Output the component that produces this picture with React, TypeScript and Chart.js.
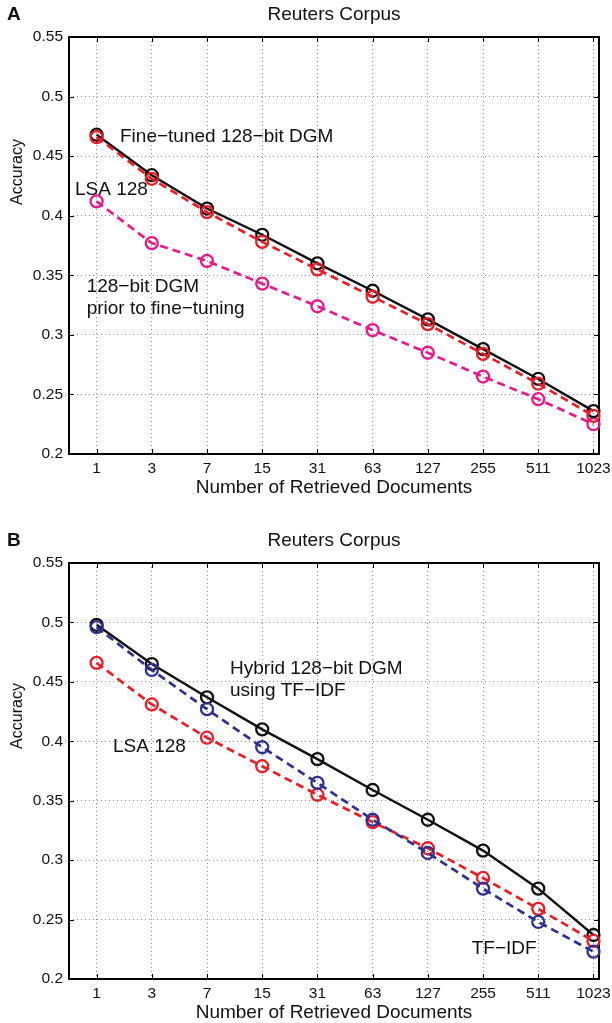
import React, { useEffect, useRef } from "react";
import { Chart, registerables } from "chart.js";

Chart.register(...registerables);

// ---- data ----
const docCounts = [1, 3, 7, 15, 31, 63, 127, 255, 511, 1023];
const docLabels = ["1", "3", "7", "15", "31", "63", "127", "255", "511", "1023"];
const yTickValues = [0.2, 0.25, 0.3, 0.35, 0.4, 0.45, 0.5, 0.55];
const yTickLabels = ["0.2", "0.25", "0.3", "0.35", "0.4", "0.45", "0.5", "0.55"];

// Panel A
const fineTunedDGM = [0.468, 0.434, 0.406, 0.384, 0.360, 0.337, 0.313, 0.288, 0.263, 0.236];
const lsa128A = [0.466, 0.431, 0.403, 0.378, 0.355, 0.332, 0.309, 0.284, 0.259, 0.232];
const priorDGM = [0.412, 0.377, 0.362, 0.343, 0.324, 0.304, 0.285, 0.265, 0.246, 0.225];

// Panel B
const hybridDGM = [0.498, 0.465, 0.437, 0.410, 0.385, 0.359, 0.334, 0.308, 0.276, 0.237];
const tfidf = [0.496, 0.460, 0.427, 0.395, 0.365, 0.334, 0.306, 0.276, 0.248, 0.223];
const lsa128B = [0.466, 0.431, 0.403, 0.379, 0.355, 0.332, 0.310, 0.285, 0.259, 0.232];

const FONT = '"Liberation Sans", Arial, Helvetica, sans-serif';
const RED = "#ed1c24";
const MAGENTA = "#ec178c";
const BLUE = "#2e3192";
const BLACK = "#111111";

type Series = { label: string; values: number[]; color: string; dashed: boolean; order: number };
type Note = { lines: string[]; x: number; y: number };

type PanelProps = {
  letter: string;
  top: number;
  height: number;
  axisH: number;
  ylabelY: number;
  series: Series[];
  notes: Note[];
};

function Panel({ letter, top, height, axisH, ylabelY, series, notes }: PanelProps) {
  const ref = useRef<HTMLCanvasElement>(null);
  useEffect(() => {
    const canvas = ref.current!;
    const xs = docCounts.map((n) => Math.log2(n + 1));
    const datasets = series.map((s) => ({
      label: s.label,
      data: s.values.map((v, j) => ({ x: xs[j], y: v })),
      borderColor: s.color,
      backgroundColor: "transparent",
      borderWidth: s.dashed ? 2.7 : 2.4,
      borderDash: s.dashed ? [8, 5] : [],
      pointRadius: 6,
      pointBorderWidth: 2.3,
      pointBackgroundColor: "transparent",
      pointBorderColor: s.color,
      pointStyle: "circle",
      tension: 0,
      clip: false as any,
      order: s.order,
      fill: false,
    }));

    const framePlugin = {
      id: "frame",
      beforeDatasetsDraw(chart: any) {
        const { ctx, chartArea } = chart;
        const { left, right, top: t, bottom } = chartArea;
        const xsScale = chart.scales.x;
        const ysScale = chart.scales.y;
        ctx.save();
        ctx.strokeStyle = "#000";
        ctx.lineWidth = 1;
        ctx.setLineDash([]);
        ctx.beginPath();
        xsScale.ticks.forEach((tk: any) => {
          const px = Math.round(xsScale.getPixelForValue(tk.value)) + 0.5;
          ctx.moveTo(px, bottom);
          ctx.lineTo(px, bottom - 5);
          ctx.moveTo(px, t);
          ctx.lineTo(px, t + 5);
        });
        ysScale.ticks.forEach((tk: any) => {
          const py = Math.round(ysScale.getPixelForValue(tk.value)) + 0.5;
          ctx.moveTo(left, py);
          ctx.lineTo(left + 5, py);
          ctx.moveTo(right, py);
          ctx.lineTo(right - 5, py);
        });
        ctx.stroke();
        ctx.lineWidth = 2;
        ctx.strokeRect(left, t, right - left, bottom - t);
        ctx.restore();
      },
      afterDraw(chart: any) {
        const { ctx, chartArea } = chart;
        const { left, right, top: t, bottom } = chartArea;
        const xsScale = chart.scales.x;
        const ysScale = chart.scales.y;
        ctx.save();
        ctx.fillStyle = "#111";
        ctx.textBaseline = "middle";
        // panel letter
        ctx.font = `bold 19px ${FONT}`;
        ctx.textAlign = "left";
        ctx.fillText(letter, 7, t - 22);
        // title
        ctx.font = `19px ${FONT}`;
        ctx.textAlign = "center";
        ctx.fillText("Reuters Corpus", (left + right) / 2, t - 22);
        // x title
        ctx.fillText("Number of Retrieved Documents", (left + right) / 2, bottom + 34);
        // y title
        ctx.save();
        ctx.font = `16px ${FONT}`;
        ctx.translate(18, ylabelY);
        ctx.rotate(-Math.PI / 2);
        ctx.fillText("Accuracy", 0, 0);
        ctx.restore();
        // notes
        ctx.textAlign = "left";
        ctx.font = `19px ${FONT}`;
        notes.forEach((n) => {
          const px = xsScale.getPixelForValue(n.x);
          const py = ysScale.getPixelForValue(n.y);
          n.lines.forEach((ln, i) => ctx.fillText(ln, px, py + i * 22));
        });
        ctx.restore();
      },
    };

    const chart = new Chart(canvas, {
      type: "line",
      data: { datasets: datasets as any },
      options: {
        animation: false,
        responsive: false,
        maintainAspectRatio: false,
        devicePixelRatio: 1,
        layout: { padding: { top: 37, right: 13, left: 0, bottom: 0 } },
        plugins: { legend: { display: false }, tooltip: { enabled: false }, title: { display: false } },
        elements: { line: { tension: 0 } },
        scales: {
          x: {
            type: "linear",
            min: 0.5,
            max: 10.1,
            afterBuildTicks: (scale: any) => {
              scale.ticks = xs.map((v) => ({ value: v }));
            },
            afterFit: (scale: any) => {
              scale.height = axisH;
              scale.paddingLeft = 0;
              scale.paddingRight = 0;
            },
            ticks: {
              autoSkip: false,
              maxRotation: 0,
              padding: 5,
              color: "#111",
              font: { family: FONT, size: 15.5 },
              callback: (_v: any, i: number) => docLabels[i],
            },
            grid: { color: "#8a8a8a", lineWidth: 1, drawTicks: false },
            border: { display: false, dash: [1, 3] },
          },
          y: {
            type: "linear",
            min: 0.2,
            max: 0.55,
            afterBuildTicks: (scale: any) => {
              scale.ticks = yTickValues.map((v) => ({ value: v }));
            },
            afterFit: (scale: any) => {
              scale.width = 69;
              scale.paddingTop = 0;
              scale.paddingBottom = 0;
            },
            ticks: {
              padding: 6,
              color: "#111",
              font: { family: FONT, size: 15.5 },
              callback: (_v: any, i: number) => yTickLabels[i],
            },
            grid: { color: "#8a8a8a", lineWidth: 1, drawTicks: false },
            border: { display: false, dash: [1, 3] },
          },
        },
      } as any,
      plugins: [framePlugin],
    });
    return () => chart.destroy();
  }, []);
  return (
    <canvas
      ref={ref}
      width={612}
      height={height}
      style={{ position: "absolute", left: 0, top, width: 612, height, display: "block" }}
    />
  );
}

export default function App() {
  const seriesA: Series[] = [
    { label: "Fine-tuned 128-bit DGM", values: fineTunedDGM, color: BLACK, dashed: false, order: 1 },
    { label: "LSA 128", values: lsa128A, color: RED, dashed: true, order: 0 },
    { label: "128-bit DGM prior to fine-tuning", values: priorDGM, color: MAGENTA, dashed: true, order: 2 },
  ];
  const seriesB: Series[] = [
    { label: "Hybrid 128-bit DGM using TF-IDF", values: hybridDGM, color: BLACK, dashed: false, order: 2 },
    { label: "LSA 128", values: lsa128B, color: RED, dashed: true, order: 1 },
    { label: "TF-IDF", values: tfidf, color: BLUE, dashed: true, order: 0 },
  ];
  const notesA: Note[] = [
    { lines: ["Fine\u2212tuned 128\u2212bit DGM"], x: 1.424, y: 0.466 },
    { lines: ["LSA 128"], x: 0.609, y: 0.4216 },
    { lines: ["128\u2212bit DGM", "prior to fine\u2212tuning"], x: 0.82, y: 0.3404 },
  ];
  const notesB: Note[] = [
    { lines: ["Hybrid 128\u2212bit DGM", "using TF\u2212IDF"], x: 3.417, y: 0.4614 },
    { lines: ["LSA 128"], x: 1.297, y: 0.3954 },
    { lines: ["TF\u2212IDF"], x: 7.795, y: 0.2252 },
  ];
  return (
    <div style={{ position: "fixed", left: 0, top: 0, width: 612, height: 1023, background: "#fff" }}>
      <Panel letter="A" top={0} height={510} axisH={56} ylabelY={172} series={seriesA} notes={notesA} />
      <Panel letter="B" top={526} height={497} axisH={44} ylabelY={190} series={seriesB} notes={notesB} />
    </div>
  );
}
